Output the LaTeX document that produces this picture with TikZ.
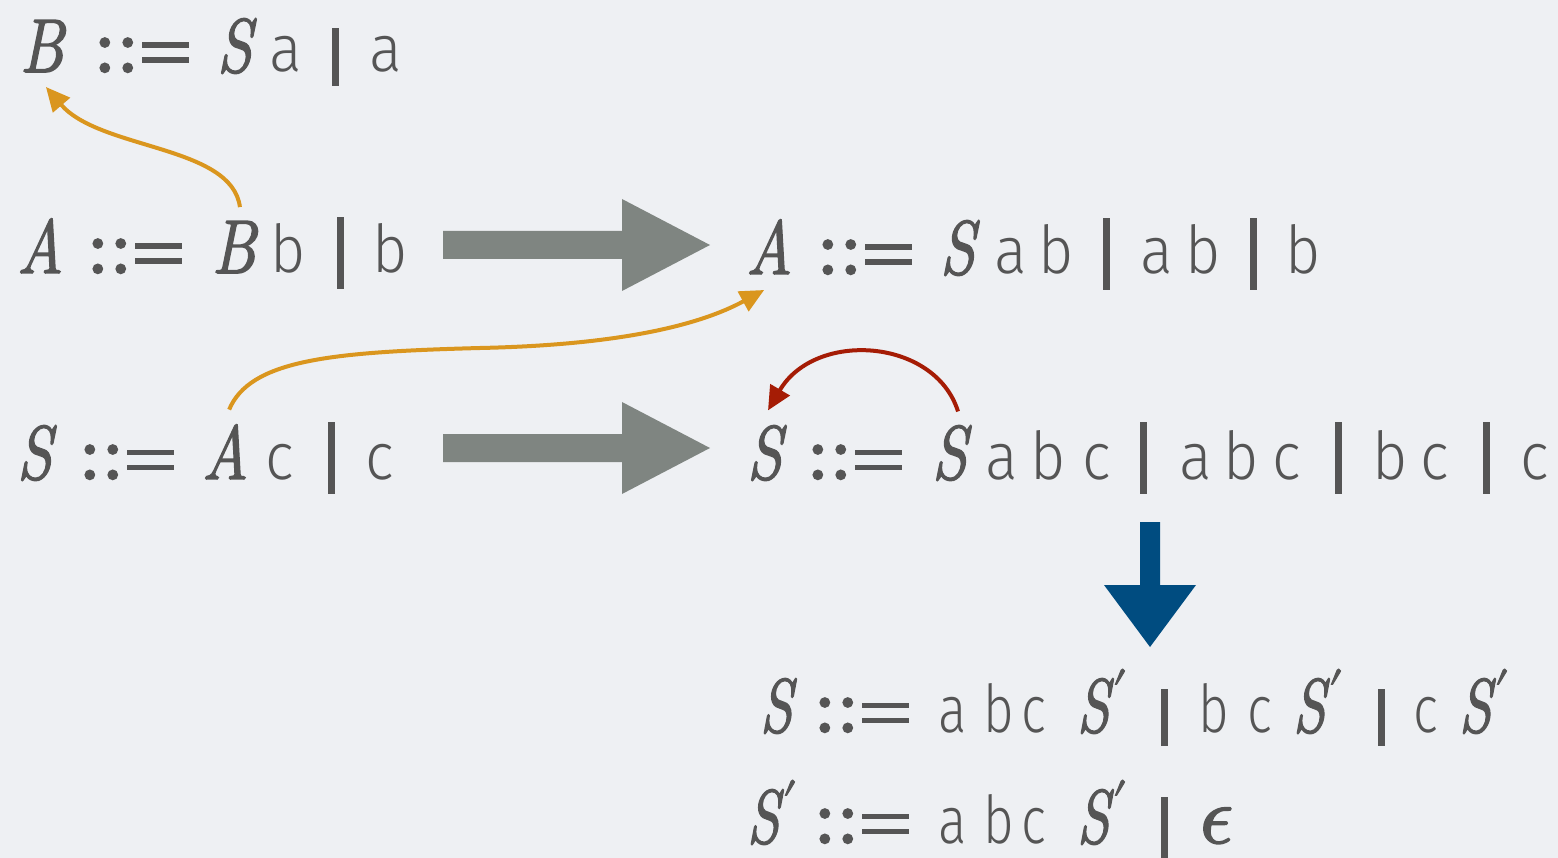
\documentclass[tikz,border=0pt]{standalone}
\usepackage{fontspec}
\newfontfamily\sfam{Fira Sans}[UprightFont=* Light]
\newfontfamily\lmv{lmroman10-italic.otf}[FakeBold=2]
\newfontfamily\lmr{lmroman10-regular.otf}[FakeBold=3]
\newfontfamily\lmm{latinmodern-math.otf}[FakeBold=2]
\usepackage{graphicx}
\usetikzlibrary{arrows.meta,calc}
\definecolor{bg}{HTML}{EEF0F3}
\definecolor{txt}{HTML}{555555}
\definecolor{garrow}{HTML}{7F8581}
\definecolor{orng}{HTML}{DA961E}
\definecolor{redc}{HTML}{A51C05}
\definecolor{bluec}{HTML}{004C80}
\newcommand\Vs[2]{\scalebox{#1}[1]{\lmv\fontsize{76}{80}\selectfont #2}}
\newcommand\Va[1]{\Vs{0.82}{#1}}
\newcommand\Vb[1]{\Vs{0.76}{#1}}
\newcommand\Vp[1]{\Vs{0.76}{#1}\kern3pt\raisebox{27pt}{\lmm\fontsize{48}{48}\selectfont ′}}
\newcommand\Ts[2]{\scalebox{#1}[1]{\fontsize{66}{70}\sfam #2}}
\newcommand\Ta[1]{\Ts{0.92}{#1}}
\newcommand\Tb[1]{\Ts{0.8}{#1}}
\newcommand\defeqsym{\makebox[0pt][l]{\hspace*{-6pt}{\lmr\fontsize{78}{80}\selectfont :}}\makebox[0pt][l]{\hspace*{17pt}{\lmr\fontsize{78}{80}\selectfont :}}\hspace*{42pt}\makebox[0pt][l]{\rule[9pt]{47pt}{5.5pt}}\rule[24pt]{47pt}{5.5pt}}
\newcommand\vbr[2]{\rule[-#2pt]{6.5pt}{#1pt}}
\tikzset{
  tok/.style={anchor=base west, inner sep=0pt, outer sep=0pt, text=txt},
  oarr/.style={draw=orng, line width=4pt, -{Triangle[length=24pt,width=22pt]}},
  rarr/.style={draw=redc, line width=4pt, -{Triangle[length=24pt,width=22pt]}},
}
\begin{document}
\begin{tikzpicture}[x=1pt,y=-1pt]
\fill[bg] (0,0) rectangle (1558,858);
\useasboundingbox (0,0) rectangle (1558,858);
% row 1
\node[tok] (r1B) at (20,72) {\Va{B}};
\node[tok] (r1eq) at (100,72) {\defeqsym};
\node[tok] (r1S) at (217,72) {\Va{S}};
\node[tok] (r1a) at (269,72) {\Ta{a}};
\node[tok] (r1bar) at (332,72) {\vbr{58}{14}};
\node[tok] (r1a2) at (369,72) {\Ta{a}};
% row 2 left
\node[tok] (r2A) at (17,273) {\Va{A}};
\node[tok] (r2eq) at (93,273) {\defeqsym};
\node[tok] (r2B) at (212,273) {\Va{B}};
\node[tok] (r2b) at (270,273) {\Ta{b}};
\node[tok] (r2bar) at (337,273) {\vbr{72}{16}};
\node[tok] (r2b2) at (372,273) {\Ta{b}};
% row 2 right
\node[tok] (r2RA) at (746,274) {\Va{A}};
\node[tok] (r2Req) at (823,274) {\defeqsym};
\node[tok] (r2RS) at (940,274) {\Va{S}};
\node[tok] (r2Ra) at (994,274) {\Ta{a}};
\node[tok] (r2Rb) at (1038,274) {\Ta{b}};
\node[tok] (r2Rbar) at (1103,274) {\vbr{72}{16}};
\node[tok] (r2Ra2) at (1140,274) {\Ta{a}};
\node[tok] (r2Rb2) at (1185,274) {\Ta{b}};
\node[tok] (r2Rbar2) at (1250,274) {\vbr{72}{16}};
\node[tok] (r2Rb3) at (1285,274) {\Ta{b}};
% row 3 left
\node[tok] (r3S) at (17,479) {\Va{S}};
\node[tok] (r3eq) at (85,479) {\defeqsym};
\node[tok] (r3A) at (202,479) {\Va{A}};
\node[tok] (r3c) at (265,479) {\Ta{c}};
\node[tok] (r3bar) at (328,479) {\vbr{72}{15}};
\node[tok] (r3c2) at (365,479) {\Ta{c}};
% row 3 right
\node[tok] (r3RS1) at (747,479) {\Va{S}};
\node[tok] (r3Req) at (813,479) {\defeqsym};
\node[tok] (r3RS2) at (932,479) {\Va{S}};
\node[tok] (r3Ra) at (985,479) {\Ta{a}};
\node[tok] (r3Rb) at (1030,479) {\Ta{b}};
\node[tok] (r3Rc) at (1082,479) {\Ta{c}};
\node[tok] (r3Rbar) at (1140,479) {\vbr{72}{15}};
\node[tok] (r3Ra2) at (1179,479) {\Ta{a}};
\node[tok] (r3Rb2) at (1223,479) {\Ta{b}};
\node[tok] (r3Rc2) at (1272,479) {\Ta{c}};
\node[tok] (r3Rbar2) at (1335,479) {\vbr{72}{15}};
\node[tok] (r3Rb3) at (1372,479) {\Ta{b}};
\node[tok] (r3Rc3) at (1420,479) {\Ta{c}};
\node[tok] (r3Rbar3) at (1483,479) {\vbr{72}{15}};
\node[tok] (r3Rc4) at (1520,479) {\Ta{c}};
% row 4
\node[tok] (r4S) at (760,732) {\Vb{S}};
\node[tok] (r4eq) at (820,732) {\defeqsym};
\node[tok] (r4a) at (938,732) {\Tb{a}};
\node[tok] (r4b) at (983,732) {\Tb{b}};
\node[tok] (r4c) at (1021,732) {\Tb{c}};
\node[tok] (r4Sp) at (1077,732) {\Vp{S}};
\node[tok] (r4bar) at (1161,732) {\vbr{57}{14}};
\node[tok] (r4b2) at (1198,732) {\Tb{b}};
\node[tok] (r4c2) at (1247,732) {\Tb{c}};
\node[tok] (r4Sp2) at (1293,732) {\Vp{S}};
\node[tok] (r4bar2) at (1378,732) {\vbr{57}{14}};
\node[tok] (r4c3) at (1413,732) {\Tb{c}};
\node[tok] (r4Sp3) at (1459,732) {\Vp{S}};
% row 5
\node[tok] (r5Sp) at (747,843) {\Vp{S}};
\node[tok] (r5eq) at (820,843) {\defeqsym};
\node[tok] (r5a) at (938,843) {\Tb{a}};
\node[tok] (r5b) at (983,843) {\Tb{b}};
\node[tok] (r5c) at (1021,843) {\Tb{c}};
\node[tok] (r5Sp2) at (1077,843) {\Vp{S}};
\node[tok] (r5bar) at (1161,843) {\vbr{61}{15}};
\node[tok] (r5eps) at (1200,843) {{\lmm\fontsize{82}{84}\selectfont 𝜖}};
% big gray arrows
\coordinate (g1s) at (443,245);
\coordinate (g1e) at (710,245);
\coordinate (g2s) at (443,448);
\coordinate (g2e) at (710,448);
\foreach \s/\e in {g1s/g1e, g2s/g2e}{
  \fill[garrow] ($(\s)+(0,-14)$) -- ($(\e)+(-88,-14)$) -- ($(\e)+(-88,-46)$) -- (\e)
    -- ($(\e)+(-88,46)$) -- ($(\e)+(-88,14)$) -- ($(\s)+(0,14)$) -- cycle;
}
% blue arrow
\coordinate (b1) at (1150,522);
\coordinate (b2) at (1150,647);
\fill[bluec] ($(b1)+(-10,0)$) -- ($(b2)+(-10,-62)$) -- ($(b2)+(-46,-62)$) -- (b2)
  -- ($(b2)+(46,-62)$) -- ($(b2)+(10,-62)$) -- ($(b1)+(10,0)$) -- cycle;
% curved arrows
\draw[oarr] ([xshift=6pt,yshift=14pt]r2B.north) .. controls (232,145) and (100,150) .. ([xshift=4pt,yshift=-15pt]r1B.south);
\draw[oarr] ([xshift=4pt,yshift=15pt]r3A.north) .. controls (250,360) and (330,352) .. (480,348)
  .. controls (620,345) and (700,325) .. ([xshift=-5pt,yshift=-16pt]r2RA.south);
\draw[rarr] ([xshift=8.5pt,yshift=14pt]r3RS2.north) .. controls (935,338) and (815,330) .. ([xshift=3.5pt,yshift=15pt]r3RS1.north);
\end{tikzpicture}
\end{document}
